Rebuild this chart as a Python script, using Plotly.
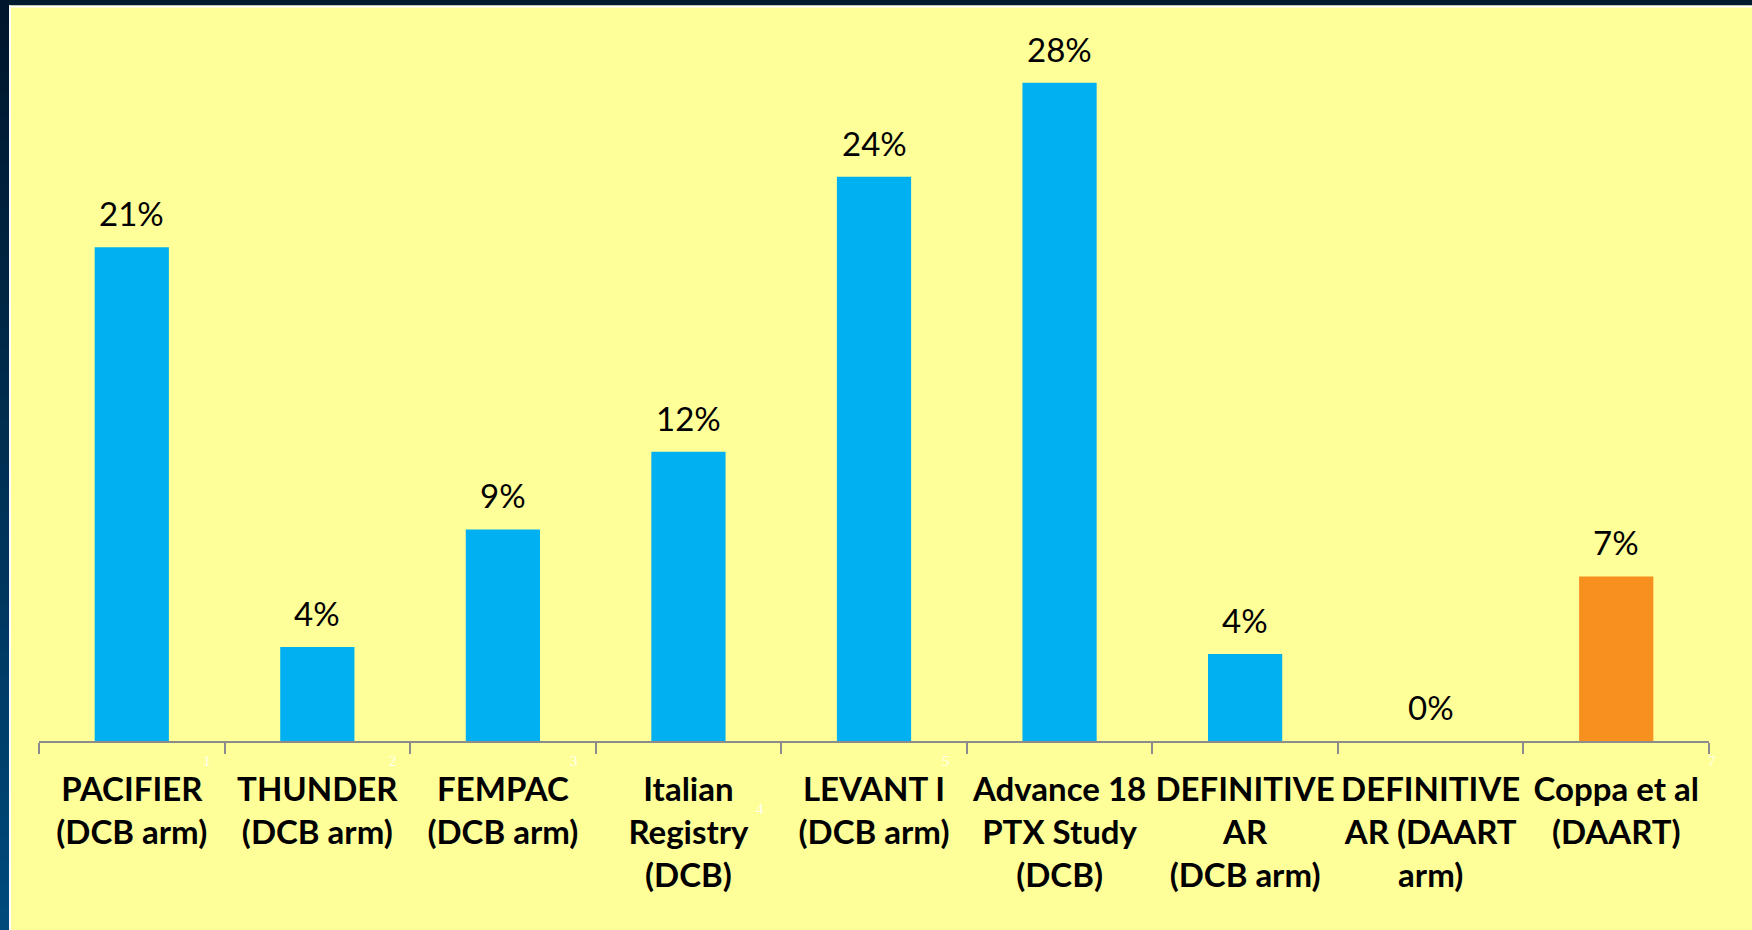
import plotly.graph_objects as go

# ---------------- data ----------------
categories = [
    "PACIFIER (DCB arm)", "THUNDER (DCB arm)", "FEMPAC (DCB arm)",
    "Italian Registry (DCB)", "LEVANT I (DCB arm)", "Advance 18 PTX Study (DCB)",
    "DEFINITIVE AR (DCB arm)", "DEFINITIVE AR (DAART arm)", "Coppa et al (DAART)",
]
tick_labels = [
    "PACIFIER<br>(DCB arm)", "THUNDER<br>(DCB arm)", "FEMPAC<br>(DCB arm)",
    "Italian<br>Registry<br>(DCB)", "LEVANT I<br>(DCB arm)", "Advance 18<br>PTX Study<br>(DCB)",
    "DEFINITIVE<br>AR<br>(DCB arm)", "DEFINITIVE<br>AR (DAART<br>arm)", "Coppa et al<br>(DAART)",
]
values = [21, 4, 9, 12.3, 24, 28, 3.7, 0, 7]
value_labels = ["21%", "4%", "9%", "12%", "24%", "28%", "4%", "0%", "7%"]
bar_colors = ["#00B0F0"] * 8 + ["#F7901E"]

# footnote reference marks (white, faint) next to category boundaries
foot_marks = ["1", "2", "3", "4", "5", "7"]
foot_bounds = [1, 2, 3, 4, 5, 9]
foot_dx = [-18, -17, -22, -21, -21, 3]
foot_dy = [-20, -20, -20, -68, -20, -20]

# ---------------- layout constants ----------------
W, H = 1752, 930
ML, MR, MT, MB = 39, 43, 30, 189
PW, PH = W - ML - MR, H - MT - MB
YMAX = PH / 23.51
YELLOW = "#FFFF99"
FONT = "Lato"

fig = go.Figure()
fig.add_trace(go.Bar(
    x=categories, y=values,
    marker=dict(color=bar_colors, line=dict(width=0)),
    hoverinfo="skip",
))

annotations = []
for c, v, t in zip(categories, values, value_labels):
    annotations.append(dict(
        x=c, y=v, xref="x", yref="y", text=t, showarrow=False,
        yanchor="middle", yshift=34,
        font=dict(family=FONT, size=33, color="#000000"),
    ))
for m, b, dx, dy in zip(foot_marks, foot_bounds, foot_dx, foot_dy):
    annotations.append(dict(
        x=b - 0.5, y=0, xref="x", yref="y", text=m, showarrow=False,
        xanchor="center", yanchor="middle", xshift=dx, yshift=dy,
        font=dict(family="Liberation Serif", size=15, color="rgba(255,255,255,0.9)"),
    ))

# border decoration shapes (paper coords converted from pixels)
def px_x(p):
    return (p - ML) / PW

def px_y(p):
    return (H - MB - p) / PH

shapes = []
shapes.append(dict(type="rect", xref="paper", yref="paper", layer="above",
                   x0=px_x(0), x1=px_x(W), y0=px_y(0), y1=px_y(5.5),
                   fillcolor="#001A30", line=dict(width=0)))
shapes.append(dict(type="rect", xref="paper", yref="paper", layer="above",
                   x0=px_x(9), x1=px_x(W), y0=px_y(5.5), y1=px_y(7.5),
                   fillcolor="#FFFFFF", line=dict(width=0)))
top_rgb = (0x00, 0x15, 0x2B)
bot_rgb = (0x00, 0x4A, 0x7C)
N = 40
for i in range(N):
    f = (i + 0.5) / N
    col = "rgb(%d,%d,%d)" % tuple(round(a + (b - a) * f) for a, b in zip(top_rgb, bot_rgb))
    shapes.append(dict(type="rect", xref="paper", yref="paper", layer="above",
                       x0=px_x(0), x1=px_x(9), y0=px_y(H * i / N), y1=px_y(H * (i + 1) / N + 1),
                       fillcolor=col, line=dict(width=0)))
shapes.append(dict(type="rect", xref="paper", yref="paper", layer="above",
                   x0=px_x(9), x1=px_x(11), y0=px_y(5.5), y1=px_y(H),
                   fillcolor="#FFFFFF", line=dict(width=0)))

fig.update_layout(
    template="none",
    width=W, height=H,
    margin=dict(l=ML, r=MR, t=MT, b=MB, pad=0),
    paper_bgcolor=YELLOW, plot_bgcolor=YELLOW,
    showlegend=False,
    bargap=0.6,
    annotations=annotations,
    shapes=shapes,
    xaxis=dict(
        type="category", categoryorder="array", categoryarray=categories,
        range=[-0.5, len(categories) - 0.5],
        tickmode="array", tickvals=categories, ticktext=tick_labels,
        tickangle=0,
        tickson="boundaries", ticks="outside", ticklen=11, tickwidth=1.5,
        tickcolor="#8C8C8C",
        showline=True, linecolor="#8C8C8C", linewidth=1.5,
        showgrid=False, zeroline=False, automargin=False,
        tickfont=dict(family=FONT, size=33, color="#000000", weight="bold"),
        ticklabelstandoff=19,
        fixedrange=True,
    ),
    yaxis=dict(
        range=[0, YMAX], visible=False, showgrid=False, zeroline=False,
        automargin=False, fixedrange=True,
    ),
)

fig.write_html("out.html", config={"displayModeBar": False})
